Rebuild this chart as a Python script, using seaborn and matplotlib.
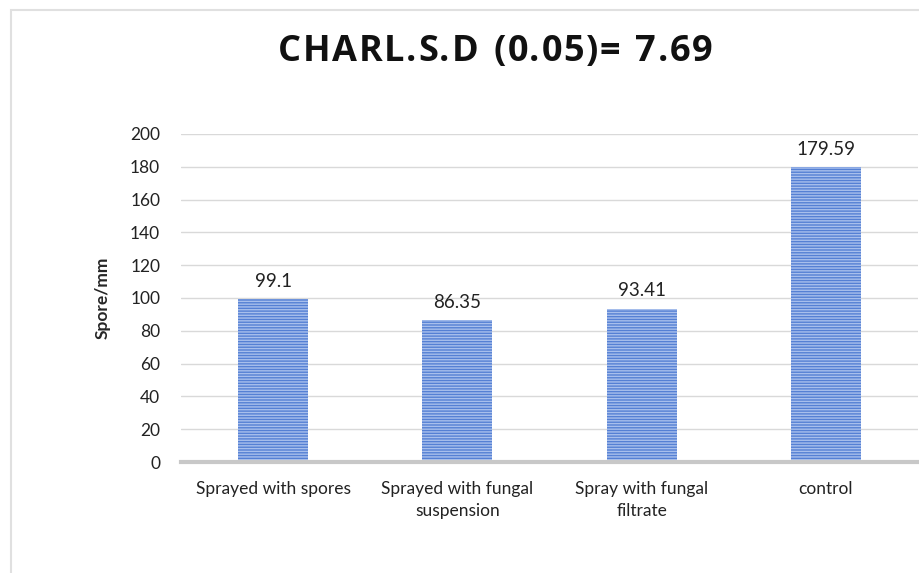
import matplotlib
matplotlib.use("Agg")
import matplotlib.pyplot as plt
import seaborn as sns
import pandas as pd
from matplotlib.patches import Rectangle

# Treatment means (spores per mm)
treatments = ["Sprayed with spores", "Sprayed with fungal\nsuspension",
              "Spray with fungal\nfiltrate", "control"]
spore_counts = [99.1, 86.35, 93.41, 179.59]
value_labels = ["99.1", "86.35", "93.41", "179.59"]
y_ticks = [0, 20, 40, 60, 80, 100, 120, 140, 160, 180, 200]
title_text = "CHARL.S.D (0.05)= 7.69"

sns.set_theme(style="white")
plt.rcParams["font.family"] = ["Lato", "DejaVu Sans"]
plt.rcParams["hatch.linewidth"] = 1.0

df = pd.DataFrame({"treatment": treatments, "count": spore_counts})

fig = plt.figure(figsize=(9.19, 5.73), dpi=100)
ax = fig.add_axes([0.197, 0.1937, 0.802, 0.5725])

sns.barplot(data=df, x="treatment", y="count", ax=ax, width=0.38,
            color="#5580D4", saturation=1)
for bar in ax.patches:
    bar.set_hatch("------")
    bar.set_edgecolor("#A8BFEC")
    bar.set_linewidth(0)

ax.set_ylim(0, 200)
ax.set_xlim(-0.5, 3.5)
ax.set_yticks(y_ticks)
ax.set_yticklabels([str(t) for t in y_ticks], fontsize=12.5, color="#222222")
ax.tick_params(axis="x", labelsize=12.5, labelcolor="#222222", pad=14, length=0)
for lbl in ax.get_xticklabels():
    lbl.set_linespacing(1.45)
ax.tick_params(axis="y", length=0, pad=15)
ax.yaxis.grid(True, color="#D9D9D9", linewidth=1)
ax.set_axisbelow(True)
for side in ["top", "right", "left"]:
    ax.spines[side].set_visible(False)
ax.spines["bottom"].set_color("#C8C8C8")
ax.spines["bottom"].set_linewidth(3)

ax.set_xlabel("")
ax.set_ylabel("Spore/mm", fontsize=12.5, fontweight="bold", labelpad=14)

for bar, txt in zip(ax.patches, value_labels):
    ax.annotate(txt, (bar.get_x() + bar.get_width() / 2, bar.get_height()),
                xytext=(0, 7), textcoords="offset points",
                ha="center", va="bottom", fontsize=13.5, color="#222222")

# Title with letter tracking: place each character along a measured baseline
title_font = dict(fontsize=26, fontweight="bold", family=["Open Sans", "DejaVu Sans"],
                  color="#111111")
renderer = fig.canvas.get_renderer()
tracking = 1.6  # extra pixels between characters
widths = []
for ch in title_text:
    t = fig.text(0, 0, ch if ch != " " else "a", **title_font)
    w = t.get_window_extent(renderer).width
    if ch == " ":
        w *= 0.55
    widths.append(w)
    t.remove()
total = sum(widths) + tracking * (len(title_text) - 1)
x_px = 0.539 * fig.bbox.width - total / 2
for ch, w in zip(title_text, widths):
    if ch != " ":
        fig.text(x_px / fig.bbox.width, 0.91, ch, ha="left", va="center", **title_font)
    x_px += w + tracking

# Chart frame
fig.patches.append(Rectangle((0.0115, -0.05), 1.1, 1.033, transform=fig.transFigure,
                             fill=False, edgecolor="#E0E0E0", linewidth=1.5))

fig.savefig("out.png", dpi=100)
